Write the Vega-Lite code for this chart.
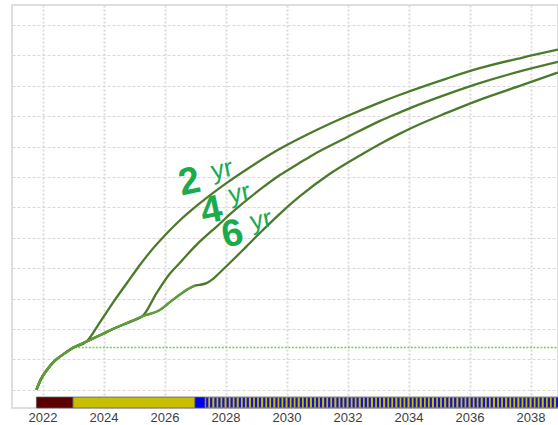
{
  "$schema": "https://vega.github.io/schema/vega-lite/v6.json",
  "width": 546,
  "height": 403,
  "autosize": "none",
  "padding": {"left": 12, "top": 5, "right": 0, "bottom": 17},
  "background": "white",
  "config": {
    "view": {"stroke": "#d4d4d4", "strokeWidth": 1.5},
    "axisX": {"grid": true, "gridColor": "#dadada", "gridDash": [2, 2], "gridWidth": 2, "ticks": false, "domain": false, "labelFont": "Liberation Sans", "labelFontSize": 13, "labelColor": "#3e3e3e", "labelPadding": 3, "labelFontWeight": "normal"},
    "axisY": {"grid": true, "gridColor": "#d9d9d9", "gridDash": [3, 2], "gridWidth": 1.2, "ticks": false, "domain": false, "labels": false}
  },
  "datasets": {
    "phases": [
      {"phase": "commissioning", "start": 2021.8, "end": 2023.0},
      {"phase": "build", "start": 2023.0, "end": 2027.0},
      {"phase": "switch", "start": 2027.0, "end": 2027.33},
      {"phase": "operation", "start": 2027.33, "end": 2038.9}
    ],
    "stripes": [
      {"t": 2027.40}, {"t": 2027.53}, {"t": 2027.67}, {"t": 2027.80}, {"t": 2027.93}, {"t": 2028.07}, {"t": 2028.20}, {"t": 2028.33}, {"t": 2028.47}, {"t": 2028.60}, {"t": 2028.73}, {"t": 2028.87}, {"t": 2029.00}, {"t": 2029.13}, {"t": 2029.27}, {"t": 2029.40}, {"t": 2029.53}, {"t": 2029.67}, {"t": 2029.80}, {"t": 2029.93},
      {"t": 2030.07}, {"t": 2030.20}, {"t": 2030.33}, {"t": 2030.47}, {"t": 2030.60}, {"t": 2030.73}, {"t": 2030.87}, {"t": 2031.00}, {"t": 2031.13}, {"t": 2031.27}, {"t": 2031.40}, {"t": 2031.53}, {"t": 2031.67}, {"t": 2031.80}, {"t": 2031.93},
      {"t": 2032.07}, {"t": 2032.20}, {"t": 2032.33}, {"t": 2032.47}, {"t": 2032.60}, {"t": 2032.73}, {"t": 2032.87}, {"t": 2033.00}, {"t": 2033.13}, {"t": 2033.27}, {"t": 2033.40}, {"t": 2033.53}, {"t": 2033.67}, {"t": 2033.80}, {"t": 2033.93},
      {"t": 2034.07}, {"t": 2034.20}, {"t": 2034.33}, {"t": 2034.47}, {"t": 2034.60}, {"t": 2034.73}, {"t": 2034.87}, {"t": 2035.00}, {"t": 2035.13}, {"t": 2035.27}, {"t": 2035.40}, {"t": 2035.53}, {"t": 2035.67}, {"t": 2035.80}, {"t": 2035.93},
      {"t": 2036.07}, {"t": 2036.20}, {"t": 2036.33}, {"t": 2036.47}, {"t": 2036.60}, {"t": 2036.73}, {"t": 2036.87}, {"t": 2037.00}, {"t": 2037.13}, {"t": 2037.27}, {"t": 2037.40}, {"t": 2037.53}, {"t": 2037.67}, {"t": 2037.80}, {"t": 2037.93},
      {"t": 2038.07}, {"t": 2038.20}, {"t": 2038.33}, {"t": 2038.47}, {"t": 2038.60}, {"t": 2038.73}, {"t": 2038.87}
    ],
    "curves": [
      {"s": "2 yr", "year": 2021.80, "v": 0}, {"s": "2 yr", "year": 2021.95, "v": 3.5}, {"s": "2 yr", "year": 2022.15, "v": 6.6}, {"s": "2 yr", "year": 2022.40, "v": 9.5}, {"s": "2 yr", "year": 2022.70, "v": 11.8}, {"s": "2 yr", "year": 2023.00, "v": 13.8}, {"s": "2 yr", "year": 2023.45, "v": 15.9},
      {"s": "2 yr", "year": 2023.87, "v": 22.0}, {"s": "2 yr", "year": 2024.30, "v": 28.5}, {"s": "2 yr", "year": 2024.78, "v": 35.3}, {"s": "2 yr", "year": 2025.18, "v": 40.9}, {"s": "2 yr", "year": 2025.41, "v": 43.9}, {"s": "2 yr", "year": 2026.07, "v": 51.4}, {"s": "2 yr", "year": 2026.49, "v": 55.6}, {"s": "2 yr", "year": 2027.15, "v": 61.3}, {"s": "2 yr", "year": 2028.03, "v": 68.0}, {"s": "2 yr", "year": 2028.69, "v": 72.5}, {"s": "2 yr", "year": 2029.77, "v": 79.2}, {"s": "2 yr", "year": 2030.85, "v": 84.8}, {"s": "2 yr", "year": 2031.84, "v": 89.4}, {"s": "2 yr", "year": 2033.05, "v": 94.5}, {"s": "2 yr", "year": 2033.70, "v": 97.0}, {"s": "2 yr", "year": 2035.25, "v": 102.4}, {"s": "2 yr", "year": 2036.33, "v": 105.8}, {"s": "2 yr", "year": 2037.74, "v": 109.3}, {"s": "2 yr", "year": 2038.90, "v": 111.9},
      {"s": "4 yr", "year": 2021.80, "v": 0}, {"s": "4 yr", "year": 2021.95, "v": 3.5}, {"s": "4 yr", "year": 2022.15, "v": 6.6}, {"s": "4 yr", "year": 2022.40, "v": 9.5}, {"s": "4 yr", "year": 2022.70, "v": 11.8}, {"s": "4 yr", "year": 2023.00, "v": 13.8}, {"s": "4 yr", "year": 2023.45, "v": 15.9}, {"s": "4 yr", "year": 2023.90, "v": 18.0}, {"s": "4 yr", "year": 2024.40, "v": 20.4}, {"s": "4 yr", "year": 2024.90, "v": 22.5}, {"s": "4 yr", "year": 2025.28, "v": 24.2},
      {"s": "4 yr", "year": 2025.74, "v": 31.8}, {"s": "4 yr", "year": 2026.16, "v": 38.0}, {"s": "4 yr", "year": 2026.49, "v": 41.6}, {"s": "4 yr", "year": 2026.72, "v": 44.2}, {"s": "4 yr", "year": 2027.08, "v": 48.0}, {"s": "4 yr", "year": 2027.38, "v": 50.8}, {"s": "4 yr", "year": 2027.70, "v": 53.6}, {"s": "4 yr", "year": 2028.13, "v": 57.6}, {"s": "4 yr", "year": 2029.21, "v": 66.5}, {"s": "4 yr", "year": 2029.77, "v": 70.6}, {"s": "4 yr", "year": 2030.36, "v": 74.2}, {"s": "4 yr", "year": 2030.85, "v": 77.2}, {"s": "4 yr", "year": 2031.97, "v": 83.0}, {"s": "4 yr", "year": 2033.05, "v": 88.4}, {"s": "4 yr", "year": 2033.70, "v": 91.2}, {"s": "4 yr", "year": 2034.13, "v": 93.0}, {"s": "4 yr", "year": 2035.25, "v": 97.2}, {"s": "4 yr", "year": 2036.33, "v": 100.9}, {"s": "4 yr", "year": 2037.74, "v": 105.0}, {"s": "4 yr", "year": 2038.90, "v": 107.9},
      {"s": "6 yr", "year": 2021.80, "v": 0}, {"s": "6 yr", "year": 2021.95, "v": 3.5}, {"s": "6 yr", "year": 2022.15, "v": 6.6}, {"s": "6 yr", "year": 2022.40, "v": 9.5}, {"s": "6 yr", "year": 2022.70, "v": 11.8}, {"s": "6 yr", "year": 2023.00, "v": 13.8}, {"s": "6 yr", "year": 2023.45, "v": 15.9}, {"s": "6 yr", "year": 2023.90, "v": 18.0}, {"s": "6 yr", "year": 2024.40, "v": 20.4}, {"s": "6 yr", "year": 2024.90, "v": 22.5}, {"s": "6 yr", "year": 2025.28, "v": 24.2},
      {"s": "6 yr", "year": 2025.84, "v": 26.2}, {"s": "6 yr", "year": 2026.26, "v": 29.5}, {"s": "6 yr", "year": 2026.82, "v": 33.4}, {"s": "6 yr", "year": 2027.00, "v": 34.3}, {"s": "6 yr", "year": 2027.15, "v": 34.5}, {"s": "6 yr", "year": 2027.38, "v": 35.1}, {"s": "6 yr", "year": 2027.57, "v": 36.3}, {"s": "6 yr", "year": 2027.90, "v": 39.4}, {"s": "6 yr", "year": 2028.23, "v": 42.6}, {"s": "6 yr", "year": 2028.69, "v": 47.2}, {"s": "6 yr", "year": 2029.21, "v": 52.4}, {"s": "6 yr", "year": 2029.77, "v": 57.8}, {"s": "6 yr", "year": 2030.43, "v": 63.6}, {"s": "6 yr", "year": 2031.41, "v": 71.0}, {"s": "6 yr", "year": 2032.49, "v": 77.6}, {"s": "6 yr", "year": 2033.05, "v": 80.8}, {"s": "6 yr", "year": 2033.70, "v": 84.2}, {"s": "6 yr", "year": 2034.13, "v": 86.3}, {"s": "6 yr", "year": 2035.25, "v": 91.1}, {"s": "6 yr", "year": 2036.33, "v": 95.4}, {"s": "6 yr", "year": 2037.74, "v": 100.3}, {"s": "6 yr", "year": 2038.90, "v": 104.4}
    ],
    "shared": [
      {"year": 2021.80, "v": 0}, {"year": 2021.95, "v": 3.5}, {"year": 2022.15, "v": 6.6}, {"year": 2022.40, "v": 9.5}, {"year": 2022.70, "v": 11.8}, {"year": 2023.00, "v": 13.8}, {"year": 2023.45, "v": 15.9}, {"year": 2023.90, "v": 18.0}, {"year": 2024.40, "v": 20.4}, {"year": 2024.90, "v": 22.5}, {"year": 2025.28, "v": 24.2}, {"year": 2025.84, "v": 26.2}, {"year": 2026.26, "v": 29.5}, {"year": 2026.82, "v": 33.4}, {"year": 2027.00, "v": 34.3}
    ],
    "flat": [
      {"year": 2023.06, "v": 13.9}, {"year": 2038.9, "v": 13.9}
    ],
    "labels": [
      {"kind": "num", "text": "2", "year": 2026.82, "v": 68.2},
      {"kind": "unit", "text": "yr", "year": 2027.88, "v": 72.4},
      {"kind": "num", "text": "4", "year": 2027.54, "v": 58.7},
      {"kind": "unit", "text": "yr", "year": 2028.46, "v": 64.6},
      {"kind": "num", "text": "6", "year": 2028.23, "v": 51.0},
      {"kind": "unit", "text": "yr", "year": 2029.16, "v": 55.8}
    ]
  },
  "layer": [
    {
      "data": {"name": "phases"},
      "mark": {"type": "rect", "stroke": "#5a5a5a", "strokeWidth": 0.8},
      "encoding": {
        "x": {"field": "start", "type": "quantitative", "title": null, "scale": {"domain": [2021, 2038.9], "nice": false, "zero": false}, "axis": {"format": "d", "tickCount": 9}},
        "x2": {"field": "end"},
        "y": {"datum": -2.4, "type": "quantitative", "title": null, "scale": {"domain": [-6, 126.6], "nice": false, "zero": false}, "axis": {"tickCount": 13}},
        "y2": {"datum": -6},
        "color": {"field": "phase", "type": "nominal", "legend": null, "scale": {"domain": ["commissioning", "build", "switch", "operation"], "range": ["#5a0000", "#c8be00", "#0000f0", "#c8be00"]}}
      }
    },
    {
      "data": {"name": "stripes"},
      "mark": {"type": "rule", "color": "#1010d8", "strokeWidth": 2.2},
      "encoding": {
        "x": {"field": "t", "type": "quantitative", "title": null},
        "y": {"datum": -2.6, "type": "quantitative", "title": null},
        "y2": {"datum": -5.8}
      }
    },
    {
      "data": {"name": "flat"},
      "mark": {"type": "line", "color": "#6fd14a", "strokeWidth": 1.5, "strokeDash": [2, 1.5]},
      "encoding": {
        "x": {"field": "year", "type": "quantitative", "title": null},
        "y": {"field": "v", "type": "quantitative", "title": null}
      }
    },
    {
      "data": {"name": "curves"},
      "mark": {"type": "line", "color": "#4b7a2b", "strokeWidth": 2.3, "interpolate": "monotone"},
      "encoding": {
        "x": {"field": "year", "type": "quantitative", "title": null},
        "y": {"field": "v", "type": "quantitative", "title": null},
        "detail": {"field": "s", "type": "nominal"}
      }
    },
    {
      "data": {"name": "shared"},
      "mark": {"type": "line", "color": "#5e9e3a", "strokeWidth": 2.3, "interpolate": "monotone"},
      "encoding": {
        "x": {"field": "year", "type": "quantitative", "title": null},
        "y": {"field": "v", "type": "quantitative", "title": null}
      }
    },
    {
      "data": {"name": "labels"},
      "transform": [{"filter": "datum.kind === 'num'"}],
      "mark": {"type": "text", "color": "#1aab4d", "font": "Liberation Sans", "fontWeight": "bold", "fontSize": 38, "align": "center", "baseline": "middle", "angle": 348},
      "encoding": {
        "x": {"field": "year", "type": "quantitative", "title": null},
        "y": {"field": "v", "type": "quantitative", "title": null},
        "text": {"field": "text"}
      }
    },
    {
      "data": {"name": "labels"},
      "transform": [{"filter": "datum.kind === 'unit'"}],
      "mark": {"type": "text", "color": "#1aab4d", "font": "Liberation Sans", "fontWeight": "normal", "fontSize": 26, "align": "center", "baseline": "middle", "angle": 348},
      "encoding": {
        "x": {"field": "year", "type": "quantitative", "title": null},
        "y": {"field": "v", "type": "quantitative", "title": null},
        "text": {"field": "text"}
      }
    },
    {
      "mark": {"type": "rule", "color": "#ff8c8c", "strokeWidth": 1.5},
      "encoding": {
        "x": {"datum": 2038.83, "type": "quantitative"}
      }
    }
  ]
}
